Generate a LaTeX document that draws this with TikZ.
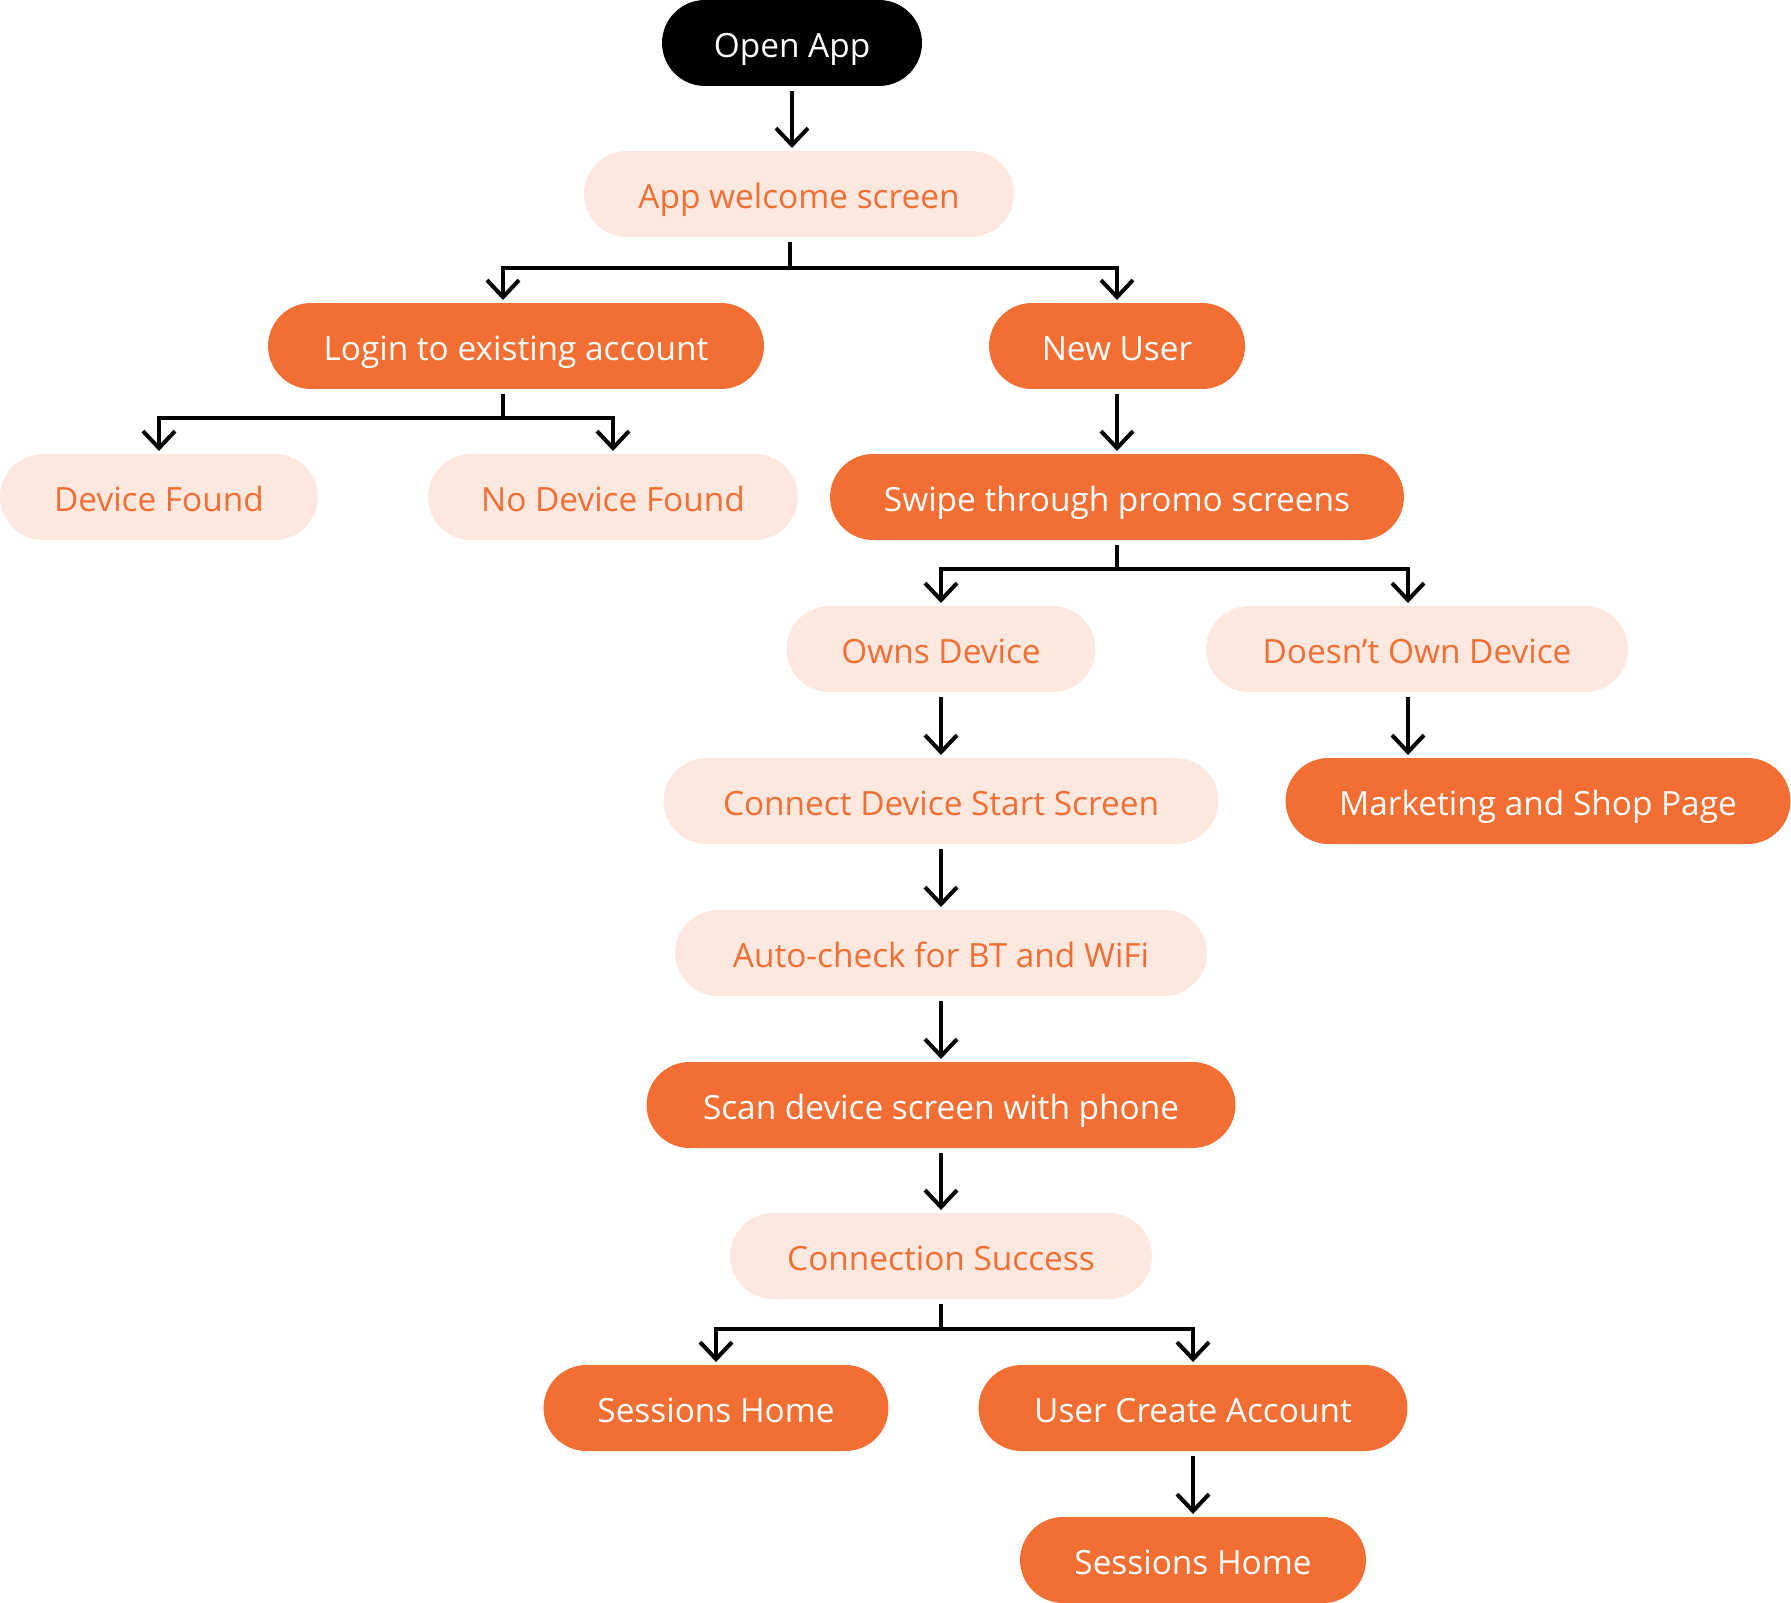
\documentclass[tikz,border=0pt]{standalone}
\usepackage{fontspec}
\setmainfont{Open Sans}
\usetikzlibrary{arrows.meta}
\definecolor{orng}{HTML}{F26E33}
\definecolor{peach}{HTML}{FDE8E0}
\tikzset{
	box/.style={rectangle, rounded corners=0.86cm, minimum height=1.72cm, inner sep=0pt, outer sep=0pt, text height=16pt, text depth=0pt, font=\fontsize{19}{21}\selectfont},
	entry/.style={box, fill=black, text=white},
	action/.style={box, fill=orng, text=white},
	screen/.style={box, fill=peach, text=orng},
}

\begin{document}
\begin{tikzpicture}[x=0.02cm, y=-0.02cm]
	\useasboundingbox (0,0) rectangle (1791,1602);
	
	\node (open) [entry, minimum width=5.2cm] at (792,43) {Open App};
	\node (welcome) [screen, minimum width=8.6cm] at (799,194) {App welcome screen};
	
	\node (login) [action, minimum width=9.92cm] at (516,346) {Login to existing account};
	\node (newuser) [action, minimum width=5.12cm] at (1117,346) {New User};
	
	\node (found) [screen, minimum width=6.36cm] at (159,497) {Device Found};
	\node (nofound) [screen, minimum width=7.4cm] at (613,497) {No Device Found};
	\node (promo) [action, minimum width=11.48cm] at (1117,497) {Swipe through promo screens};
	
	\node (owns) [screen, minimum width=6.18cm] at (941,649) {Owns Device};
	\node (noowns) [screen, minimum width=8.44cm] at (1417,649) {Doesn’t Own Device};
	
	\node (connect) [screen, minimum width=11.1cm] at (941,801) {Connect Device Start Screen};
	\node (shop) [action, minimum width=10.1cm] at (1538,801) {Marketing and Shop Page};
	
	\node (check) [screen, minimum width=10.64cm] at (941,953) {Auto-check for BT and WiFi};
	\node (scan) [action, minimum width=11.78cm] at (941,1105) {Scan device screen with phone};
	\node (success) [screen, minimum width=8.44cm] at (941,1256) {Connection Success};
	
	\node (home1) [action, minimum width=6.9cm] at (716,1408) {Sessions Home};
	\node (create) [action, minimum width=8.58cm] at (1193,1408) {User Create Account};
	\node (home2) [action, minimum width=6.92cm] at (1193,1560) {Sessions Home};
	
	\begin{scope}[line width=0.08cm, black, -{Straight Barb[length=0.34cm, width=0.64cm]}, shorten <=0.1cm, shorten >=0.06cm]
		\draw (open.south) -- (open.south |- welcome.north);
		
		\draw ([xshift=-0.18cm]welcome.south) -- ++(0,-0.62cm) -| ([xshift=-0.26cm]login.north);
		\draw ([xshift=-0.18cm]welcome.south) -- ++(0,-0.62cm) -| (newuser.north);
		
		\draw ([xshift=-0.26cm]login.south) -- ++(0,-0.58cm) -| (found.north);
		\draw ([xshift=-0.26cm]login.south) -- ++(0,-0.58cm) -| (nofound.north);
		
		\draw (newuser.south) -- (promo.north);
		
		\draw (promo.south) -- ++(0,-0.58cm) -| (owns.north);
		\draw (promo.south) -- ++(0,-0.58cm) -| ([xshift=-0.18cm]noowns.north);
		
		\draw (owns.south) -- (connect.north);
		\draw ([xshift=-0.18cm]noowns.south) -- ([xshift=-0.18cm]noowns.south |- shop.north);
		
		\draw (connect.south) -- (check.north);
		\draw (check.south) -- (scan.north);
		\draw (scan.south) -- (success.north);
		
		\draw (success.south) -- ++(0,-0.6cm) -| (home1.north);
		\draw (success.south) -- ++(0,-0.6cm) -| (create.north);
		
		\draw (create.south) -- (home2.north);
	\end{scope}
	
\end{tikzpicture}
\end{document}
